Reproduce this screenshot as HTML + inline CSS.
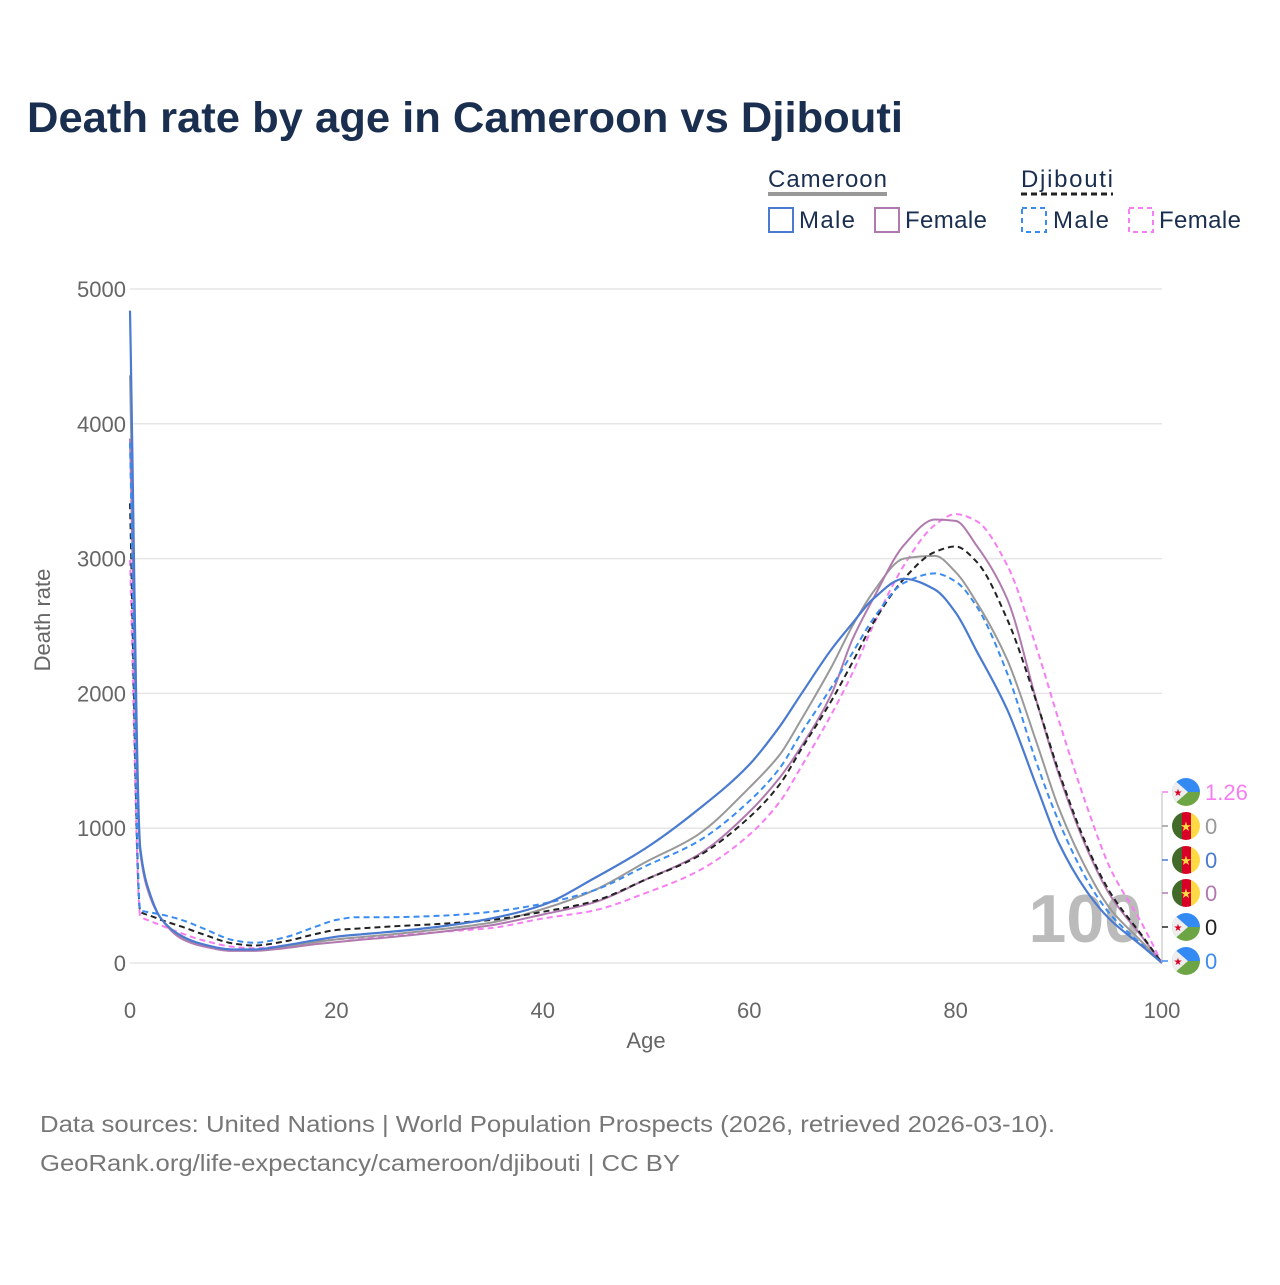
<!DOCTYPE html>
<html><head><meta charset="utf-8"><style>
html,body{margin:0;padding:0;background:#fff;}
body{width:1280px;height:1280px;overflow:hidden;font-family:"Liberation Sans",sans-serif;}
</style></head><body>
<svg id="chart" width="1280" height="1280" viewBox="0 0 1280 1280" xmlns="http://www.w3.org/2000/svg" font-family="Liberation Sans, sans-serif">
<text x="27" y="132" font-size="43" font-weight="bold" fill="#1a2e4f" textLength="876" lengthAdjust="spacingAndGlyphs">Death rate by age in Cameroon vs Djibouti</text>
<g>
  <text x="768" y="187" font-size="24" fill="#1a2e4f" textLength="119">Cameroon</text>
  <line x1="768" y1="194" x2="887" y2="194" stroke="#999" stroke-width="4"/>
  <text x="1021" y="187" font-size="24" fill="#1a2e4f" textLength="92">Djibouti</text>
  <line x1="1021" y1="194" x2="1113" y2="194" stroke="#222" stroke-width="3" stroke-dasharray="6,4"/>
  <rect x="769" y="208" width="24" height="24" fill="none" stroke="#4a7bd0" stroke-width="2"/>
  <text x="799" y="228" font-size="24" fill="#1a2e4f" textLength="56">Male</text>
  <rect x="875" y="208" width="24" height="24" fill="none" stroke="#b07aaf" stroke-width="2"/>
  <text x="905" y="228" font-size="24" fill="#1a2e4f" textLength="82">Female</text>
  <rect x="1022" y="208" width="24" height="24" fill="none" stroke="#3b8cf0" stroke-width="2" stroke-dasharray="5,4"/>
  <text x="1053" y="228" font-size="24" fill="#1a2e4f" textLength="56">Male</text>
  <rect x="1129" y="208" width="24" height="24" fill="none" stroke="#f77ef2" stroke-width="2" stroke-dasharray="5,4"/>
  <text x="1159" y="228" font-size="24" fill="#1a2e4f" textLength="82">Female</text>
</g>
<g id="grid"></g>
<g id="axes"></g>
<text x="1142" y="942" font-size="68" font-weight="bold" fill="#bbb" text-anchor="end">100</text>
<g id="series"></g>
<g id="endmarks"></g>
<text transform="translate(50,620) rotate(-90)" font-size="22" fill="#666" text-anchor="middle">Death rate</text>
<text x="646" y="1048" font-size="22" fill="#666" text-anchor="middle">Age</text>
<text x="40" y="1132" font-size="23" fill="#777" textLength="1015" lengthAdjust="spacingAndGlyphs">Data sources: United Nations | World Population Prospects (2026, retrieved 2026-03-10).</text>
<text x="40" y="1171" font-size="23" fill="#777" textLength="640" lengthAdjust="spacingAndGlyphs">GeoRank.org/life-expectancy/cameroon/djibouti | CC BY</text>
</svg>
<script>
const ages = [0,1,2,3,5,7,10,12,15,18,20,22,25,30,35,40,45,50,55,60,63,65,68,70,72,75,78,80,82,85,88,90,93,95,98,100];
const camMale =   [4840,850,500,330,200,140,100,100,130,170,195,210,230,270,330,430,630,853,1135,1470,1760,1990,2330,2520,2700,2850,2770,2600,2320,1880,1280,890,500,320,130,0];
const camFemale = [3890,820,480,330,180,125,90,90,110,140,155,170,190,230,280,360,450,620,800,1120,1380,1600,2000,2400,2700,3100,3290,3280,3100,2700,1900,1400,800,500,200,0];
const camTotal =  [4360,830,490,330,190,130,95,95,120,155,175,190,210,250,300,400,540,750,950,1300,1550,1800,2200,2500,2750,3000,3020,2900,2680,2250,1600,1150,650,400,160,0];
const djiMale =   [3860,390,375,360,320,260,170,150,190,270,320,340,340,350,380,440,540,720,900,1200,1450,1700,2050,2300,2550,2820,2890,2830,2650,2150,1450,1050,580,360,140,0];
const djiFemale = [2990,350,310,280,220,170,120,110,130,160,175,185,200,230,260,330,390,520,680,950,1200,1450,1850,2150,2500,2950,3250,3330,3280,2950,2300,1800,1100,700,300,1.26];
const djiTotal =  [3410,380,350,320,270,215,145,130,160,215,245,255,270,290,320,380,460,620,790,1080,1330,1580,1950,2230,2520,2850,3050,3090,2980,2550,1900,1420,820,520,210,0];
const yTicks = [0,1000,2000,3000,4000,5000];
const xTicks = [0,20,40,60,80,100];
const endLabels = ["1.26","0","0","0","0","0"];

const NS="http://www.w3.org/2000/svg";
const X0=130,X1=1162,Y0=963,Y1=289;
function xs(a){return X0+(X1-X0)*a/100;}
function ys(v){return Y0-(Y0-Y1)*v/5000;}
function mk(t,attrs,parent){const e=document.createElementNS(NS,t);for(const k in attrs)e.setAttribute(k,attrs[k]);parent.appendChild(e);return e;}
function monoPath(px,py){
  const n=px.length,d=[],m=[];
  for(let i=0;i<n-1;i++)d.push((py[i+1]-py[i])/(px[i+1]-px[i]));
  m[0]=d[0];m[n-1]=d[n-2];
  for(let i=1;i<n-1;i++){
    if(d[i-1]*d[i]<=0)m[i]=0;
    else{const h0=px[i]-px[i-1],h1=px[i+1]-px[i];m[i]=3*(h0+h1)/((2*h1+h0)/d[i-1]+(h1+2*h0)/d[i]);}
  }
  let s='M'+px[0].toFixed(1)+','+py[0].toFixed(1);
  for(let i=0;i<n-1;i++){
    const h=(px[i+1]-px[i])/3;
    s+='C'+(px[i]+h).toFixed(1)+','+(py[i]+m[i]*h).toFixed(1)+' '+(px[i+1]-h).toFixed(1)+','+(py[i+1]-m[i+1]*h).toFixed(1)+' '+px[i+1].toFixed(1)+','+py[i+1].toFixed(1);
  }
  return s;
}
const grid=document.getElementById('grid'),axes=document.getElementById('axes'),ser=document.getElementById('series'),em=document.getElementById('endmarks');
yTicks.forEach(v=>{
  const l=mk('line',{x1:X0,x2:X1,y1:ys(v),y2:ys(v),stroke:'#e6e6e6','stroke-width':1.5},grid);
  
  
  const t=mk('text',{x:126,y:ys(v)+8,'font-size':22,fill:'#666','text-anchor':'end'},axes);
  t.textContent=v;
  
  
});
xTicks.forEach(a=>{
  const t=mk('text',{x:xs(a),y:1018,'font-size':22,fill:'#666','text-anchor':'middle'},axes);
  t.textContent=a;
  
  
});
const series=[
 {name:'djibouti-female',d:djiFemale,c:'#f77ef2',dash:'6,4',w:2},
 {name:'cameroon-total',d:camTotal,c:'#999',dash:null,w:2},
 {name:'cameroon-female',d:camFemale,c:'#b07aaf',dash:null,w:2},
 {name:'djibouti-total',d:djiTotal,c:'#222',dash:'6,4',w:2},
 {name:'djibouti-male',d:djiMale,c:'#3b8cf0',dash:'6,4',w:2},
 {name:'cameroon-male',d:camMale,c:'#4a7bd0',dash:null,w:2.2}
];
series.forEach(s=>{
  const px=ages.map(xs),py=s.d.map(ys);
  const p=mk('path',{d:monoPath(px,py),fill:'none',stroke:s.c,'stroke-width':s.w,'stroke-linejoin':'round'},ser);
  if(s.dash)p.setAttribute('stroke-dasharray',s.dash);
  
  
});
const ends=[
 {c:'#f77ef2',flag:'dj'},{c:'#999',flag:'cm'},{c:'#4a7bd0',flag:'cm'},{c:'#b07aaf',flag:'cm'},{c:'#222',flag:'dj'},{c:'#3b8cf0',flag:'dj'}
];
const ly=[792,826,860,893,927,961];
mk('line',{x1:1162,x2:1162,y1:793,y2:963,stroke:'#bbb','stroke-width':1},em);
ends.forEach((e,i)=>{
  const y=ly[i];
  mk('line',{x1:1162,x2:1168,y1:y,y2:y,stroke:e.c,'stroke-width':1.5},em);
  const g=mk('g',{},em);
  
  
  const cx=1186;
  mk('clipPath',{id:'cp'+i},g);
  const cp=g.lastChild;mk('circle',{cx:cx,cy:y,r:14},cp);
  const f=mk('g',{'clip-path':'url(#cp'+i+')'},g);
  if(e.flag==='cm'){
    mk('rect',{x:cx-14,y:y-14,width:10,height:28,fill:'#426b2a'},f);
    mk('rect',{x:cx-4,y:y-14,width:9,height:28,fill:'#d80027'},f);
    mk('rect',{x:cx+5,y:y-14,width:9,height:28,fill:'#ffda44'},f);
    mk('text',{x:cx,y:y+5,'font-size':13,fill:'#ffda44','text-anchor':'middle'},f).textContent='★';
  } else {
    mk('rect',{x:cx-14,y:y-14,width:28,height:14,fill:'#338af3'},f);
    mk('rect',{x:cx-14,y:y,width:28,height:14,fill:'#6da544'},f);
    mk('polygon',{points:(cx-14)+','+(y-14)+' '+(cx+2)+','+y+' '+(cx-14)+','+(y+14),fill:'#eee'},f);
    mk('text',{x:cx-8,y:y+4,'font-size':10,fill:'#d80027','text-anchor':'middle'},f).textContent='★';
  }
  const t=mk('text',{x:1205,y:y+8,'font-size':22,fill:e.c},em);
  t.textContent=endLabels[i];
  
  
});
</script>
</body></html>
